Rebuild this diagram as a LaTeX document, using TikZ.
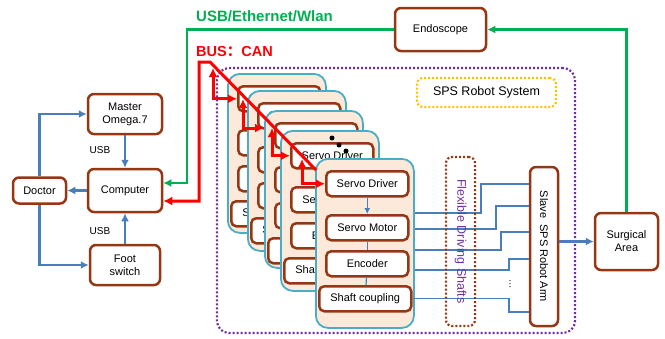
\documentclass[tikz,border=0pt]{standalone}
\usepackage{fontspec}
\setmainfont{Liberation Sans}
\newfontfamily\cjk{Noto Sans CJK SC}
\usetikzlibrary{arrows.meta}

\definecolor{boxbrown}{RGB}{150,55,20}
\definecolor{cardblue}{RGB}{75,172,198}
\definecolor{cardfill}{RGB}{253,233,217}
\definecolor{linkblue}{RGB}{74,126,187}
\definecolor{usbgreen}{RGB}{0,176,80}
\definecolor{busred}{RGB}{255,0,0}
\definecolor{syspurple}{RGB}{112,48,160}
\definecolor{labelyellow}{RGB}{255,192,0}

\tikzset{
  box/.style={draw=boxbrown, line width=2.5pt, rounded corners=6pt, fill=white,
    align=center, inner sep=1pt, font=\fontsize{11}{13}\selectfont},
  unit/.style={box, anchor=north west, minimum width=82pt, minimum height=25pt, rounded corners=5pt},
  card/.style={draw=cardblue, line width=1.8pt, fill=cardfill, rounded corners=12pt,
    anchor=north west, minimum width=98pt},
  link/.style={draw=linkblue, line width=2.6pt},
  shaft/.style={draw=linkblue, line width=1.2pt},
  usb/.style={draw=usbgreen, line width=2.6pt},
  bus/.style={draw=busred, line width=3pt, >={Latex[length=9pt,width=9pt]}},
  dotbox/.style={line width=2.2pt, dash pattern=on 2pt off 2pt, rounded corners=6pt},
}

% one servo card: #1 index, #2 left, #3 top, #4 height
\newcommand{\robotcard}[4]{%
  \node[card, minimum height=#4] (card#1) at (#2,#3) {};
  \node[unit] (drv#1) at (#2+10,#3+12) {Servo Driver};
  \node[unit] (mot#1) at (#2+10,#3+56) {Servo Motor};
  \node[unit] (enc#1) at (#2+10,#3+92) {Encoder};
  \node[unit, minimum width=92pt] (cpl#1) at (#2+3,#3+127) {Shaft coupling};
  \draw[shaft,->,>={Latex[length=6pt,width=6pt]}] (drv#1) -- (mot#1);
  \draw[shaft] (mot#1) -- (enc#1);
  \draw[shaft] (enc#1) -- (cpl#1);
}

\begin{document}
\begin{tikzpicture}[x=1pt,y=-1pt,>={Latex[length=8pt,width=8pt]}]
  \useasboundingbox (0,0) rectangle (665,338);

  % Master side
  \node[box, minimum width=53pt, minimum height=26pt] (doctor) at (39.5,190.5) {Doctor};
  \node[box, minimum width=74pt, minimum height=43pt] (computer) at (125,190.5) {Computer};
  \node[box, minimum width=74pt, minimum height=40pt] (master) at (125,114) {Master\\Omega.7};
  \node[box, minimum width=70pt, minimum height=40pt] (foot) at (125,265) {Foot\\switch};
  \node[font=\fontsize{10}{12}\selectfont] (usb1) at (100,150) {USB};
  \node[font=\fontsize{10}{12}\selectfont] (usb2) at (100,231) {USB};

  \draw[link,->] (master) -- (computer);
  \draw[link,->] (foot) -- (computer);
  \draw[link,->] (computer) -- (doctor);
  \draw[link,->] (doctor.north) |- (master.west);
  \draw[link,->] (doctor.south) |- (foot.west);

  % Slave side
  \node[box, minimum width=91pt, minimum height=43pt] (endo) at (440.5,29.5) {Endoscope};
  \node[box, minimum width=63pt, minimum height=57pt] (surg) at (626.5,241.5) {Surgical\\Area};
  \node[draw=syspurple, dotbox, rounded corners=12pt, minimum width=358pt, minimum height=265pt] (system) at (396,200.5) {};
  \node[draw=labelyellow, dotbox, minimum width=139pt, minimum height=29pt,
    font=\fontsize{12.5}{14}\selectfont] (spslabel) at (486.5,92.5) {SPS Robot System};

  % Servo cards, back to front
  \robotcard{1}{227}{73}{159}
  \robotcard{2}{247}{90}{160}
  \robotcard{3}{264}{110}{157}
  \robotcard{4}{280}{130}{160}
  \fill (332,138) circle (2.5pt);
  \fill (339,145) circle (2.5pt);
  \fill (346,151) circle (2.5pt);
  \robotcard{5}{315}{158}{169}

  \node[box, minimum width=28pt, minimum height=159pt] (slave) at (544,246.5)
    {\rotatebox{-90}{Slave\ \ SPS Robot Arm}};

  % Flexible shafts
  \foreach \ya/\xm/\yb in {213/481/184, 229/496/206, 250/501/232, 270/509/259}
    \draw[shaft] (card5.east |- 0,\ya) -| (\xm,\yb) -- (slave.west |- 0,\yb);
  \draw[shaft] (cpl5.east) -| (509,312) -- (slave.west |- 0,312);
  \node[font=\fontsize{10}{12}\selectfont] (more) at (510,284) {\rotatebox{90}{...}};
  \node[draw=boxbrown, dotbox, minimum width=29pt, minimum height=169pt, text=syspurple,
    font=\fontsize{12.5}{14}\selectfont] (flex) at (460.5,241.5) {\rotatebox{-90}{Flexible Driving Shafts}};

  \draw[link,line width=3pt,->] (slave.east |- surg.west) -- (surg.west);

  % USB/Ethernet/Wlan
  \coordinate (usbcorner) at (187,29.5);
  \draw[usb,->] (surg.north) |- (endo.east);
  \draw[usb,->] (endo.west) -- (usbcorner) |- ([yshift=7.5pt]computer.east);
  \node[anchor=west, inner sep=0, text=usbgreen, font=\bfseries\fontsize{15}{17}\selectfont]
    (usblabel) at (196,16) {USB/Ethernet/Wlan};

  % CAN bus
  \coordinate (busleft) at (199,62);
  \coordinate (busbend) at (210,62);
  \coordinate (busend) at (316,170);
  \draw[bus,<-] ([yshift=-10.5pt]computer.east) -| (busleft) -- (busbend) -- (busend);
  \coordinate (tap1) at (213,68);
  \coordinate (tap2) at (243,99);
  \coordinate (tap3) at (272,128);
  \coordinate (tap4) at (302,159);
  \coordinate (in2) at (264,128);
  \draw[bus,<->] (tap1) |- (drv1.west);
  \draw[bus,<->] (tap2) |- (in2);
  \draw[bus,<->] (tap3) |- (drv4.west);
  \draw[bus,<->] (tap4) |- (drv5.west);
  \node[anchor=west, inner sep=0, text=busred, font=\bfseries\fontsize{14.5}{17}\selectfont]
    (buslabel) at (196,52) {BUS{\cjk ：}CAN};
\end{tikzpicture}
\end{document}
